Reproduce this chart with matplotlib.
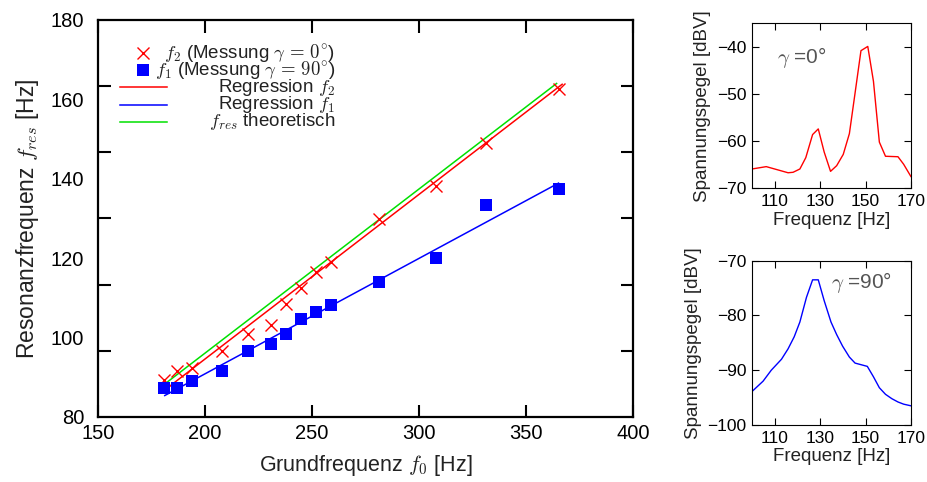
import numpy as np
import matplotlib
matplotlib.use('Agg')
from matplotlib import pyplot as plt

plt.rcParams['font.family'] = ['Liberation Sans', 'DejaVu Sans']
plt.rcParams['mathtext.fontset'] = 'cm'
plt.rcParams['text.color'] = '#222222'
plt.rcParams['axes.labelcolor'] = '#222222'

# main plot: measured resonance frequencies vs fundamental frequency
f0 = [180.7, 187.0, 193.9, 207.9, 220.0, 230.7, 237.9, 244.8, 251.8, 258.7, 281.1, 307.9, 331.1, 365.2]
f2_meas = [89.3, 91.6, 92.3, 96.7, 100.8, 103.2, 108.4, 112.4, 116.6, 119.0, 129.8, 138.3, 149.0, 162.5]
f1_meas = [87.4, 87.4, 89.0, 91.5, 96.5, 98.4, 100.9, 104.7, 106.5, 108.2, 114.1, 120.0, 133.3, 137.4]

reg_f2_x = [181.2, 366.9]
reg_f2_y = [86.8, 163.8]
reg_f1_x = [181.2, 365.2]
reg_f1_y = [85.4, 138.9]
theo_x = [180.7, 364.3]
theo_y = [88.1, 164.0]

# spectra (right side)
freq_0 = [100.0, 106.3, 110.0, 115.9, 118.1, 121.1, 123.7, 126.7, 129.2, 131.8, 134.6, 137.3,
          140.2, 142.9, 145.4, 148.0, 151.0, 153.5, 156.1, 158.8, 164.3, 166.8, 170.0]
level_0 = [-65.9, -65.4, -65.9, -66.7, -66.6, -65.9, -63.5, -58.6, -57.4, -62.3, -66.4, -65.2,
           -62.8, -58.4, -49.8, -40.8, -39.9, -47.3, -60.2, -63.2, -63.3, -64.9, -67.5]
freq_90 = [100.0, 104.9, 108.5, 113.0, 115.9, 118.6, 121.1, 124.0, 126.7, 129.2, 131.8, 134.8,
           137.3, 139.9, 142.9, 145.4, 150.8, 153.5, 156.1, 158.8, 161.6, 164.3, 166.8, 170.0]
level_90 = [-93.9, -92.0, -90.0, -88.0, -86.1, -83.9, -81.2, -76.7, -73.5, -73.5, -77.3, -81.2,
            -83.5, -85.6, -87.6, -88.7, -89.3, -91.2, -93.2, -94.4, -95.2, -95.8, -96.2, -96.5]

red = '#ff0000'
blue = '#0000ff'
green = '#00e000'

fig = plt.figure(figsize=(9.28, 4.82), dpi=100)

ax = fig.add_axes([0.1056, 0.1349, 0.5765, 0.8237])
ax.plot(reg_f2_x, reg_f2_y, color=red, lw=1.1)
ax.plot(reg_f1_x, reg_f1_y, color=blue, lw=1.1)
ax.plot(theo_x, theo_y, color=green, lw=1.1)
ax.plot(f0, f2_meas, 'x', color=red, ms=8, mew=1.0)
ax.plot(f0, f1_meas, 's', color=blue, ms=8, mew=0)

ax.set_xlim(150, 400)
ax.set_ylim(80, 180)
ax.set_xticks(np.arange(150, 401, 50))
ax.set_yticks(np.arange(80, 181, 20))
ax.set_yticks(np.linspace(80, 180, 7), minor=True)
ax.tick_params(axis='x', which='major', direction='in', top=True, length=9, width=1.5,
               labelsize=14.5, pad=5)
ax.tick_params(axis='y', which='major', length=0, labelsize=14.5, pad=10)
ax.tick_params(axis='y', which='minor', direction='in', left=True, right=True, length=9, width=1.5)
for s in ax.spines.values():
    s.set_linewidth(1.6)
ax.set_xlabel('Grundfrequenz $f_0$ [Hz]', fontsize=15.5, labelpad=7)
ax.set_ylabel('Resonanzfrequenz $f_{res}$ [Hz]', fontsize=16.5, labelpad=7)

# gnuplot-like key, text right-aligned
key_rows = [0.917, 0.874, 0.831, 0.786, 0.743]
key_text = [r'$f_2$ (Messung $\gamma\,=\,0^{\circ}$)', r'$f_1$ (Messung $\gamma\,=\,90^{\circ}$)',
            r'Regression $f_2$', r'Regression $f_1$', r'$f_{res}$ theoretisch']
ax.plot([0.084], [key_rows[0]], 'x', color=red, ms=8, mew=1.0, transform=ax.transAxes)
ax.plot([0.084], [key_rows[1]], 's', color=blue, ms=8, mew=0, transform=ax.transAxes)
for yk, c in zip(key_rows[2:], [red, blue, green]):
    ax.plot([0.041, 0.129], [yk, yk], color=c, lw=1.1, transform=ax.transAxes)
for yk, t in zip(key_rows, key_text):
    ax.text(0.443, yk, t, ha='right', va='center', fontsize=13.5, transform=ax.transAxes)


def spectrum(rect, x, y, color, ylim, yticks):
    a = fig.add_axes(rect)
    a.plot(x, y, color=color, lw=1.0)
    a.set_xlim(100, 170)
    a.set_ylim(*ylim)
    a.set_xticks([110, 130, 150, 170])
    a.set_yticks(yticks)
    a.tick_params(direction='in', top=True, right=True, length=5, width=0.8, labelsize=12.5, pad=4)
    for s in a.spines.values():
        s.set_linewidth(0.8)
    a.set_xlabel('Frequenz [Hz]', fontsize=13.5, labelpad=2)
    a.set_ylabel('Spannungspegel [dBV]', fontsize=13.5, labelpad=4)
    return a


ax1 = spectrum([0.8103, 0.6093, 0.1713, 0.3423], freq_0, level_0, red, (-70, -35),
               [-70, -60, -50, -40])
ax1.text(0.16, 0.79, r'$\gamma$ =0°', fontsize=15, color='#555555', va='center',
         transform=ax1.transAxes)

ax2 = spectrum([0.8103, 0.1183, 0.1713, 0.3409], freq_90, level_90, blue, (-100, -70),
               [-100, -90, -80, -70])
ax2.text(0.5, 0.865, r'$\gamma$ =90°', fontsize=15, color='#555555', va='center',
         transform=ax2.transAxes)

fig.savefig('out.png', dpi=100)
